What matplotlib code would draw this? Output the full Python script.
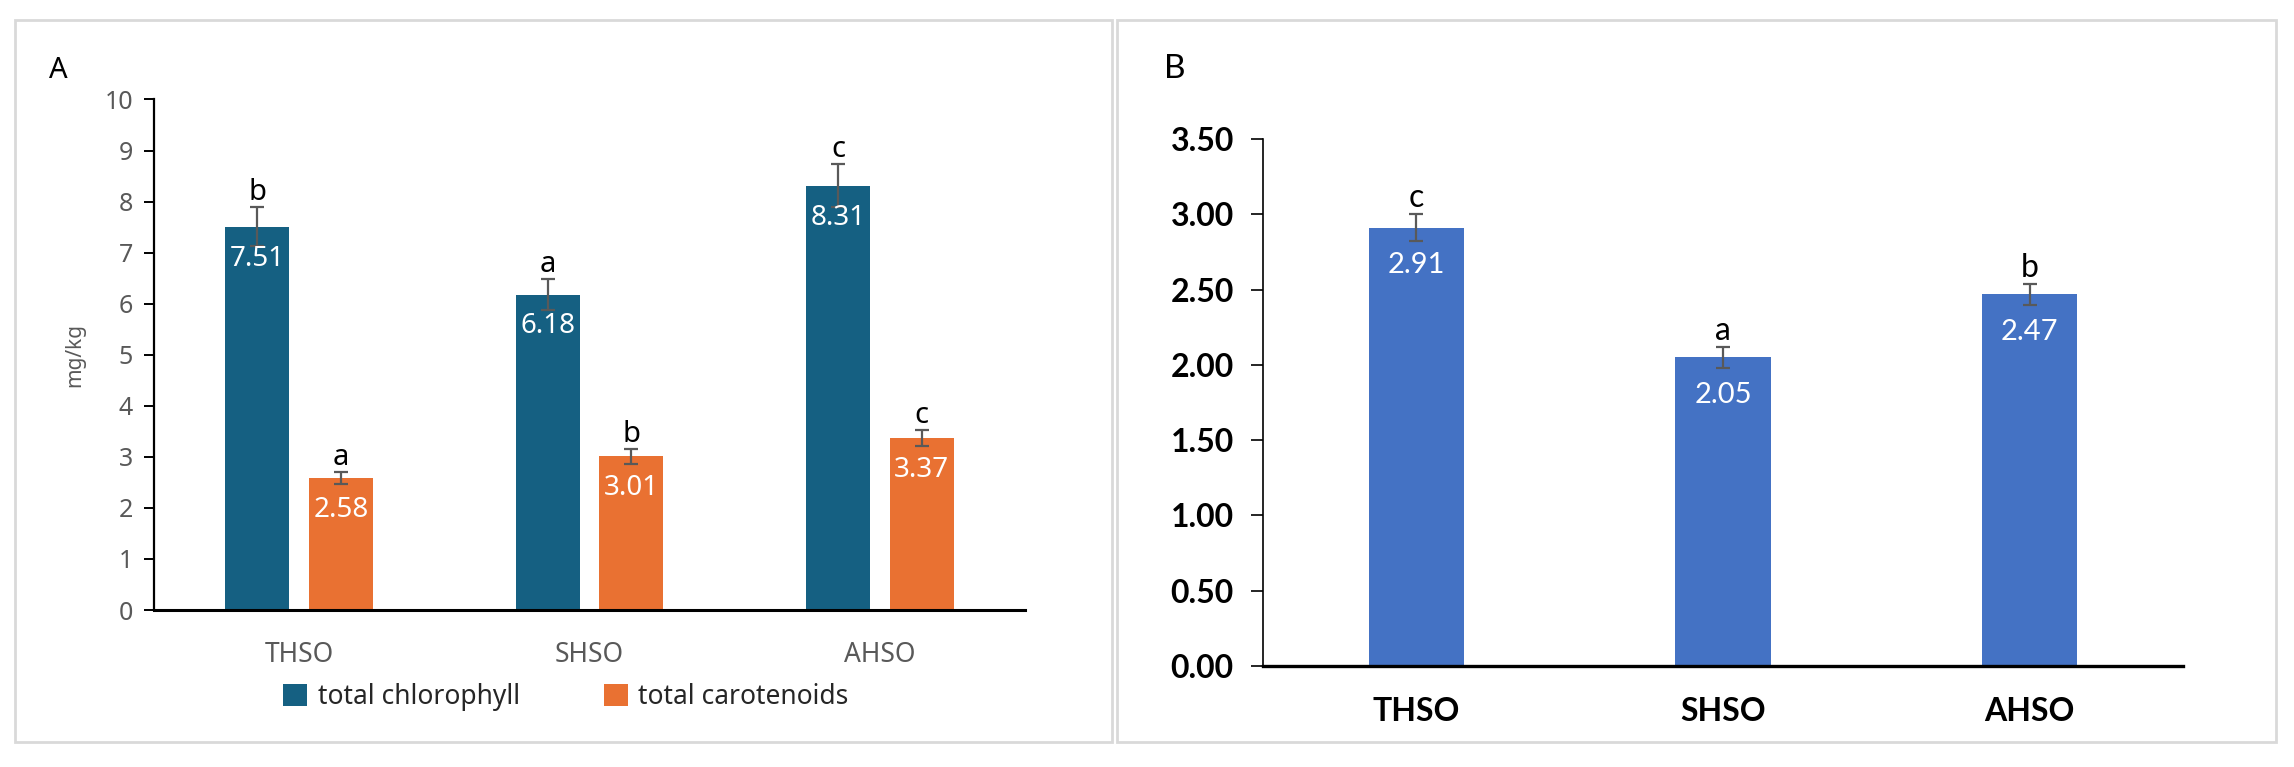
import numpy as np
import matplotlib
matplotlib.use("Agg")
import matplotlib.pyplot as plt
from matplotlib.patches import Rectangle

# panel A data
groups = ["THSO", "SHSO", "AHSO"]
chlorophyll = [7.51, 6.18, 8.31]
chlorophyll_err = [0.38, 0.30, 0.42]
chlorophyll_letters = ["b", "a", "c"]
carotenoids = [2.58, 3.01, 3.37]
carotenoids_err = [0.12, 0.15, 0.15]
carotenoids_letters = ["a", "b", "c"]

# panel B data
b_values = [2.91, 2.05, 2.47]
b_err = [0.09, 0.07, 0.07]
b_letters = ["c", "a", "b"]
b_ticks = [0.0, 0.5, 1.0, 1.5, 2.0, 2.5, 3.0, 3.5]

C_CHL = "#156082"
C_CAR = "#E97132"
C_B = "#4472C4"
GRAY = "#595959"

W, H = 2294, 767
fig = plt.figure(figsize=(W / 100, H / 100), dpi=100)

def fr(x0, y_top, x1, y_bot):
    return [x0 / W, 1 - y_bot / H, (x1 - x0) / W, (y_bot - y_top) / H]

# panel frames
for x0, x1 in [(15, 1112), (1117, 2276)]:
    fig.patches.append(Rectangle((x0 / W, 1 - 742 / H), (x1 - x0) / W, 722 / H,
                                 transform=fig.transFigure, fill=False,
                                 edgecolor="#D9D9D9", lw=2))

fA = "Noto Sans"
fB = "Lato"

# ---- panel A ----
ax = fig.add_axes(fr(154, 99.5, 1025, 610))
x = np.arange(len(groups))
w = 0.22
off = 0.144
ekw = dict(ecolor=GRAY, elinewidth=1.6, capsize=5, capthick=1.6)
ax.bar(x - off, chlorophyll, w, color=C_CHL, yerr=chlorophyll_err, error_kw=ekw,
       label="total chlorophyll")
ax.bar(x + off, carotenoids, w, color=C_CAR, yerr=carotenoids_err, error_kw=ekw,
       label="total carotenoids")
for xs, vals, errs, lets in [(x - off, chlorophyll, chlorophyll_err, chlorophyll_letters),
                             (x + off, carotenoids, carotenoids_err, carotenoids_letters)]:
    for xi, v, e, l in zip(xs, vals, errs, lets):
        ax.annotate(f"{v:.2f}", (xi, v), xytext=(0, -23), textcoords="offset points",
                    ha="center", va="center", color="white", fontsize=20, family=fA)
        ax.annotate(l, (xi, v + e), xytext=(0, 5), textcoords="offset points",
                    ha="center", va="baseline", color="black", fontsize=21, family=fA)
ax.set_xlim(-0.5, 2.5)
ax.set_ylim(0, 10)
ax.set_yticks(range(0, 11))
ax.set_xticks(x)
ax.set_xticklabels(groups)
ax.tick_params(axis="x", length=0, pad=22, labelsize=19, labelcolor=GRAY)
ax.tick_params(axis="y", length=7, width=1.4, pad=8, labelsize=18, labelcolor=GRAY)
for lab in ax.get_xticklabels() + ax.get_yticklabels():
    lab.set_family(fA)
for s in ["top", "right"]:
    ax.spines[s].set_visible(False)
ax.spines["left"].set_linewidth(1.6)
ax.spines["bottom"].set_linewidth(2.2)
ax.set_ylabel("mg/kg", fontsize=15, color=GRAY, family=fA, labelpad=14)
leg = fig.legend(loc="center", bbox_to_anchor=(566 / W, 1 - 697 / H), ncol=2,
                 frameon=False, prop={"family": fA, "size": 19},
                 handlelength=0.9, handleheight=0.9, handletextpad=0.4, columnspacing=3.2)
for t in leg.get_texts():
    t.set_color("#262626")
fig.text(58 / W, 1 - 71 / H, "A", fontsize=21, family=fA, ha="center", va="center")

# ---- panel B ----
bx = fig.add_axes(fr(1263, 139, 2183, 666))
bx.bar(x, b_values, 0.31, color=C_B, yerr=b_err, error_kw=ekw)
for xi, v, e, l in zip(x, b_values, b_err, b_letters):
    bx.annotate(f"{v:.2f}", (xi, v), xytext=(0, -27), textcoords="offset points",
                ha="center", va="center", color="white", fontsize=21, family=fB)
    bx.annotate(l, (xi, v + e), xytext=(0, 5), textcoords="offset points",
                ha="center", va="baseline", color="black", fontsize=23, family=fB)
bx.set_xlim(-0.5, 2.5)
bx.set_ylim(0, 3.5)
bx.set_yticks(b_ticks)
bx.set_yticklabels([f"{t:.2f}" for t in b_ticks])
bx.set_xticks(x)
bx.set_xticklabels(groups)
bx.tick_params(axis="x", length=0, pad=22, labelsize=23)
bx.tick_params(axis="y", length=9, width=1.2, pad=12, labelsize=23)
for lab in bx.get_xticklabels() + bx.get_yticklabels():
    lab.set_family(fB)
    lab.set_fontweight("bold")
for s in ["top", "right"]:
    bx.spines[s].set_visible(False)
bx.spines["left"].set_linewidth(1.2)
bx.spines["bottom"].set_linewidth(2.4)
fig.text(1175 / W, 1 - 69 / H, "B", fontsize=24, family=fB, ha="center", va="center")

fig.savefig("out.png", dpi=100, facecolor="white")
